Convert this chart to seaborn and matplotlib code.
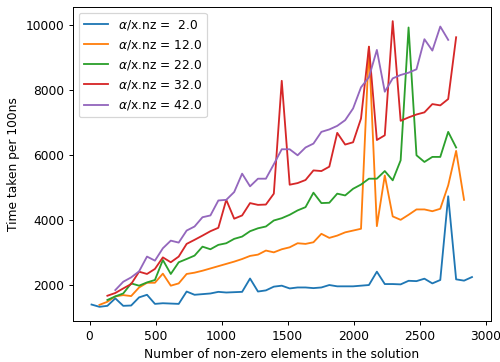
import pandas as pd
import numpy as np
import matplotlib
matplotlib.use("Agg")
import matplotlib.pyplot as plt
import seaborn as sns

# x grid shared by all runs (number of non-zero elements)
nnz = list(range(15, 2896, 60))

alphas = [2.0, 12.0, 22.0, 32.0, 42.0]
# first grid index of each run
start_idx = [0, 1, 2, 2, 3]

time_a2 = [1400, 1330, 1360, 1590, 1360, 1370, 1620, 1700, 1420, 1440,
           1430, 1420, 1800, 1700, 1720, 1740, 1790, 1770, 1780, 1790,
           2200, 1800, 1835, 1950, 1980, 1895, 1925, 1925, 1905, 1925,
           2000, 1960, 1960, 1960, 1980, 2000, 2410, 2030, 2030, 2020,
           2130, 2120, 2195, 2050, 2155, 4730, 2175, 2135, 2245]
time_a12 = [1390, 1485, 1650, 1690, 1660, 1925, 2070, 2070, 2350, 1980,
            2050, 2340, 2380, 2440, 2510, 2580, 2650, 2720, 2800, 2895,
            2935, 3060, 3005, 3100, 3160, 3285, 3265, 3315, 3575, 3450,
            3520, 3620, 3675, 3730, 9330, 3810, 5370, 4110, 4005, 4160,
            4325, 4325, 4270, 4345, 5065, 6125, 4620]
time_a22 = [1540, 1650, 1740, 2050, 1980, 2080, 2155, 2770, 2340, 2700,
            2800, 2905, 3180, 3100, 3235, 3285, 3420, 3490, 3655, 3745,
            3800, 3985, 4055, 4160, 4295, 4395, 4840, 4520, 4530, 4810,
            4755, 4960, 5090, 5270, 5270, 5505, 5220, 5835, 9920, 5990,
            5785, 5940, 5940, 6710, 6230]
time_a32 = [1670, 1755, 1895, 2030, 2410, 2340, 2495, 2850, 2700, 2875,
            3265, 3390, 3520, 3655, 3760, 4620, 4040, 4140, 4520, 4465,
            4475, 4810, 8280, 5085, 5135, 5230, 5525, 5505, 5640, 6680,
            6320, 6390, 7120, 9330, 6460, 6605, 10115, 7050, 7155, 7245,
            7310, 7565, 7525, 7720, 9620]
time_a42 = [1845, 2100, 2235, 2420, 2875, 2750, 3130, 3365, 3305, 3675,
            3800, 4085, 4140, 4600, 4620, 4860, 5425, 5035, 5270, 5270,
            5715, 6175, 6175, 5990, 6230, 6350, 6710, 6785, 6895, 7070,
            7430, 8080, 8390, 9230, 7945, 8355, 8460, 8530, 8635, 9560,
            9210, 9950, 9540]

series = [time_a2, time_a12, time_a22, time_a32, time_a42]


def build_frame():
    rows = []
    for a, s0, vals in zip(alphas, start_idx, series):
        label = "$\\alpha$/x.nz = " + f"{a:4.1f}"
        for x, y in zip(nnz[s0:s0 + len(vals)], vals):
            rows.append([label, x, y])
    return pd.DataFrame(rows, columns=["label", "nnz", "time"])


df = build_frame()
labels = list(df["label"].unique())

# reference looks like a default-size figure shrunk to 500 px wide
DPI = 88
fig, ax = plt.subplots(figsize=(500 / DPI, 362 / DPI), dpi=DPI)
fig.subplots_adjust(left=0.145, right=0.982, bottom=0.113, top=0.981)

sns.lineplot(data=df, x="nnz", y="time", hue="label", hue_order=labels,
             palette=sns.color_palette("tab10", len(labels)), ax=ax)

sns.move_legend(ax, "upper left", title=None)
ax.set_xlabel("Number of non-zero elements in the solution")
ax.set_ylabel("Time taken per 100ns")

fig.savefig("out.png", dpi=DPI)
